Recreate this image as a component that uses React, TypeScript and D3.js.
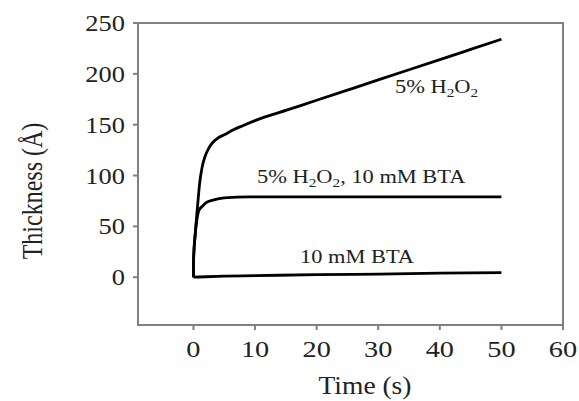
import React from 'react';
import * as d3 from 'd3';

const xTicks = [0, 10, 20, 30, 40, 50, 60];
const yTicks = [0, 50, 100, 150, 200, 250];

const timeH2O2 = [0, 0.02, 0.3, 0.7, 1.0, 1.4, 1.9, 2.5, 3.2, 4, 5, 6.5, 8, 10, 15, 20, 25, 30, 35, 40, 45, 50];
const thickH2O2 = [0, 17, 43, 72, 92, 108, 119, 127, 133, 137, 140, 145, 149, 154, 164, 174, 184, 194, 204, 214, 224, 234];

const timeMix = [0, 0.02, 0.3, 0.6, 0.9, 1.5, 2, 3.3, 5, 9, 20, 35, 50];
const thickMix = [0, 17, 43, 58, 66, 70, 73, 76, 78, 79, 79, 79, 79];

const timeBTA = [0, 5, 10, 20, 30, 40, 50];
const thickBTA = [0, 1, 1.5, 2.5, 3, 4, 4.5];

const FONT = "Liberation Serif, Times New Roman, Times, serif";

function SText({ x, y, sx = 1.18, size, anchor = 'start', children }:
  { x: number; y: number; sx?: number; size: number; anchor?: string; children: React.ReactNode }) {
  return (
    <g transform={`translate(${x},${y}) scale(${sx},1)`}>
      <text x={0} y={0} fontSize={size} textAnchor={anchor as any} fill="#222">{children}</text>
    </g>
  );
}

export default function App() {
  const W = 579, H = 401;
  const left = 138, right = 563, top = 23, bottom = 325;
  const x = d3.scaleLinear().domain([-9, 60]).range([left, right]);
  const y = d3.scaleLinear().domain([-47, 250]).range([bottom, top]);

  const line = d3.line<[number, number]>()
    .x(d => x(d[0]))
    .y(d => y(d[1]))
    .curve(d3.curveMonotoneX);

  const series = [
    { t: timeH2O2, v: thickH2O2 },
    { t: timeMix, v: thickMix },
    { t: timeBTA, v: thickBTA },
  ];

  const axisColor = '#808080';

  return (
    <svg width={W} height={H} style={{ position: 'absolute', left: 0, top: 0, background: '#fff', fontFamily: FONT }}>
      <rect x={0} y={0} width={W} height={H} fill="#fff" />
      <rect x={left} y={top} width={right - left} height={bottom - top} fill="none" stroke={axisColor} strokeWidth={2} />
      {xTicks.map(t => (
        <g key={'x' + t}>
          <line x1={x(t)} x2={x(t)} y1={bottom} y2={bottom + 5} stroke={axisColor} strokeWidth={2} />
          <SText x={x(t)} y={357} size={24} sx={1.18} anchor="middle">{t}</SText>
        </g>
      ))}
      {yTicks.map(t => (
        <g key={'y' + t}>
          <line x1={left - 5} x2={left} y1={y(t)} y2={y(t)} stroke={axisColor} strokeWidth={2} />
          <SText x={125} y={y(t) + 8} size={23} sx={1.15} anchor="end">{t}</SText>
        </g>
      ))}
      {series.map((s, i) => (
        <path key={i} d={line(s.t.map((tt, j) => [tt, s.v[j]] as [number, number])) || ''}
          fill="none" stroke="#000" strokeWidth={2.8} strokeLinejoin="round" />
      ))}
      <SText x={395} y={93} size={19}>
        5% H<tspan fontSize={13} dy={4}>2</tspan><tspan dy={-4}>O</tspan><tspan fontSize={13} dy={4}>2</tspan>
      </SText>
      <SText x={257} y={183} size={19}>
        5% H<tspan fontSize={13} dy={4}>2</tspan><tspan dy={-4}>O</tspan><tspan fontSize={13} dy={4}>2</tspan><tspan dy={-4}>, 10 mM BTA</tspan>
      </SText>
      <SText x={300} y={263} size={19}>10 mM BTA</SText>
      <SText x={365} y={394} size={25} sx={1.1} anchor="middle">Time (s)</SText>
      <g transform={`translate(42,191) scale(1.2,1) rotate(-90)`}>
        <text x={0} y={0} textAnchor="middle" fontSize={24} fill="#222">Thickness (Å)</text>
      </g>
    </svg>
  );
}
